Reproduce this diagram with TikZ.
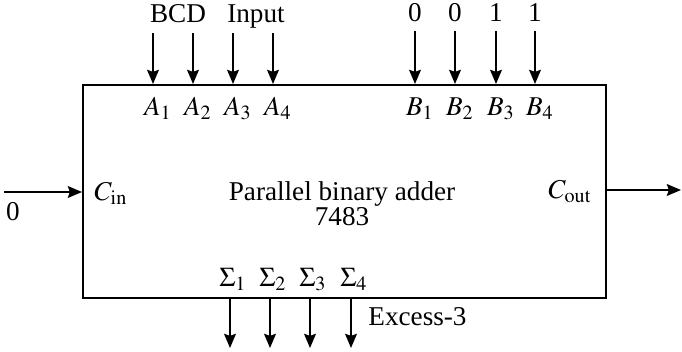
\documentclass[tikz,border=0pt]{standalone}
\usepackage{mathptmx}
\usepackage[no-math]{fontspec}
\setmainfont{Liberation Serif}
\usetikzlibrary{arrows.meta,positioning}

\tikzset{
  sig/.style={-{Stealth[length=6.5pt,width=5.4pt,inset=0.9pt]}, line width=0.9pt},
  lbl/.style={inner sep=0pt, anchor=base, font=\fontsize{12.5}{11.5}\selectfont},
}

\begin{document}
\begin{tikzpicture}[x=0.46pt,y=-0.46pt]
  \useasboundingbox (0,0) rectangle (682,351);
  % the 7483 block
  \node[draw, line width=0.9pt, minimum width=240.6pt, minimum height=98pt, inner sep=0pt] (adder) at (344.5,191.5) {};
  \node[lbl] (name) at (342,200) {Parallel binary adder};
  \node[lbl] (type) at (342,225) {7483};

  % A inputs
  \node[lbl] (bcd) at (178,22) {BCD};
  \node[lbl] (input) at (256,22) {Input};
  \foreach \x [count=\i] in {153,193,233,273} {
    \coordinate (ain\i) at (\x,33);
    \draw[sig] (ain\i) -- (ain\i |- adder.north);
    \node[lbl] (a\i) at (\x+5,115) {$A_\i$};
  }

  % B inputs
  \foreach \x/\v [count=\i] in {415/0,455/0,496/1,535/1} {
    \node[lbl] (bit\i) at (\x,21) {\v};
    \coordinate (bin\i) at (\x,31);
    \draw[sig] (bin\i) -- (bin\i |- adder.north);
    \node[lbl] (b\i) at (\x+5,115) {$B_\i$};
  }

  % sum outputs
  \foreach \x [count=\i] in {230,270,310,351} {
    \node[lbl] (s\i) at (\x+3,286) {$\Sigma_\i$};
    \coordinate (sout\i) at (\x,348);
    \draw[sig] (sout\i |- adder.south) -- (sout\i);
  }
  \node[lbl, anchor=base west] (xs3) at (368,325) {Excess-3};

  % carries
  \coordinate (cin) at (4,192);
  \draw[sig] (cin) -- (cin -| adder.west);
  \node[lbl] (zero) at (13,220) {0};
  \node[lbl] (cinlbl) at (111,200) {$C_{\mathrm{in}}$};
  \coordinate (cout) at (681,190);
  \draw[sig] (cout -| adder.east) -- (cout);
  \node[lbl] (coutlbl) at (570,198) {$C_{\mathrm{out}}$};
\end{tikzpicture}
\end{document}
